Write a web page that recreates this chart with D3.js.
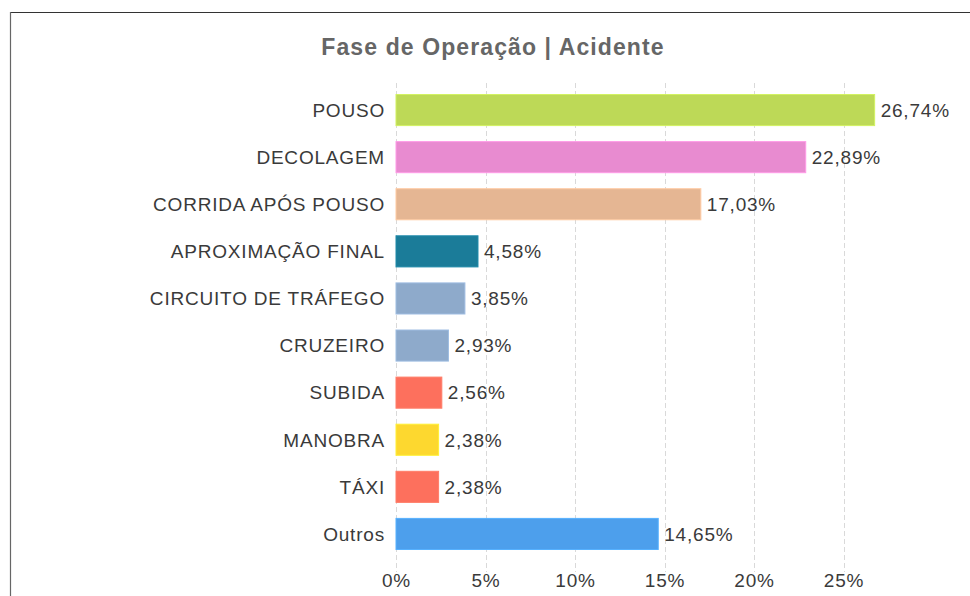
<!DOCTYPE html>
<html>
<head>
<meta charset="utf-8">
<script src="https://cdn.jsdelivr.net/npm/d3@7"></script>
<style>
  body { margin: 0; background: #fff; }
  text { font-family: "Liberation Sans", Arial, sans-serif; }
</style>
</head>
<body>
<div id="chart"></div>
<script>
var svgWidth = 970;
var svgHeight = 596;

// data
var categories = ["POUSO", "DECOLAGEM", "CORRIDA APÓS POUSO", "APROXIMAÇÃO FINAL",
    "CIRCUITO DE TRÁFEGO", "CRUZEIRO", "SUBIDA", "MANOBRA", "TÁXI", "Outros"];
var values = [26.74, 22.89, 17.03, 4.58, 3.85, 2.93, 2.56, 2.38, 2.38, 14.65];
var barColors = ["#bdd957", "#e88bd0", "#e5b693", "#1b7c99", "#8eaacb",
    "#8eaacb", "#fd705d", "#fdd82f", "#fd705d", "#4d9fec"];
var tickValues = [0, 5, 10, 15, 20, 25];

var data = categories.map(function (c, i) {
    return { name: c, value: values[i], color: barColors[i] };
});

var svg = d3.select("#chart")
    .append("svg")
    .attr("width", svgWidth)
    .attr("height", svgHeight);

// frame lines
svg.append("line")
    .attr("x1", 10).attr("x2", svgWidth)
    .attr("y1", 12.5).attr("y2", 12.5)
    .attr("stroke", "#333").attr("stroke-width", 1.2);
svg.append("line")
    .attr("x1", 10.5).attr("x2", 10.5)
    .attr("y1", 12).attr("y2", svgHeight)
    .attr("stroke", "#666").attr("stroke-width", 1.2);

// title
svg.append("text")
    .attr("x", 493)
    .attr("y", 55)
    .attr("text-anchor", "middle")
    .style("font-size", "23px")
    .style("font-weight", "bold")
    .style("letter-spacing", "1.1px")
    .attr("fill", "#666")
    .text("Fase de Operação | Acidente");

var xScale = d3.scaleLinear()
    .domain([0, 30])
    .range([396, 933]);

var yScale = d3.scaleBand()
    .domain(categories)
    .range([78.5, 565.5])
    .padding(0.34);

// dashed gridlines
svg.append("g")
    .selectAll("line")
    .data(tickValues)
    .enter()
    .append("line")
    .attr("x1", d => Math.round(xScale(d)) + 0.5)
    .attr("x2", d => Math.round(xScale(d)) + 0.5)
    .attr("y1", 83)
    .attr("y2", 572)
    .attr("stroke", "#d9d9d9")
    .attr("stroke-dasharray", "5,3");

// bars
svg.append("g")
    .selectAll("rect")
    .data(data)
    .enter()
    .append("rect")
    .attr("x", xScale(0))
    .attr("y", d => yScale(d.name))
    .attr("width", d => xScale(d.value) - xScale(0))
    .attr("height", yScale.bandwidth())
    .attr("fill", d => d.color)
    .attr("stroke", d => d3.color(d.color).brighter(0.3))
    .attr("stroke-width", 1);

// category labels
svg.append("g")
    .selectAll("text")
    .data(data)
    .enter()
    .append("text")
    .attr("x", 385)
    .attr("y", d => yScale(d.name) + yScale.bandwidth() / 2)
    .attr("dy", "0.36em")
    .attr("text-anchor", "end")
    .style("font-size", "19px")
    .style("letter-spacing", "0.8px")
    .attr("fill", "#3a3a3a")
    .text(d => d.name);

// value labels
svg.append("g")
    .selectAll("text")
    .data(data)
    .enter()
    .append("text")
    .attr("x", d => xScale(d.value) + 6)
    .attr("y", d => yScale(d.name) + yScale.bandwidth() / 2)
    .attr("dy", "0.36em")
    .style("font-size", "19px")
    .style("letter-spacing", "0.8px")
    .attr("fill", "#3a3a3a")
    .text(d => d.value.toFixed(2).replace(".", ",") + "%");

// x axis tick labels
var bottomAxis = d3.axisBottom(xScale)
    .tickValues(tickValues)
    .tickSize(0)
    .tickPadding(0)
    .tickFormat(d => d + "%");

var xAxis = svg.append("g")
    .attr("transform", "translate(0, 572)")
    .call(bottomAxis);
xAxis.select(".domain").remove();
xAxis.selectAll("text")
    .attr("dy", "0.78em")
    .style("font-size", "19px")
    .style("letter-spacing", "0.8px")
    .style("font-family", "'Liberation Sans', Arial, sans-serif")
    .attr("fill", "#3a3a3a");
</script>
</body>
</html>
